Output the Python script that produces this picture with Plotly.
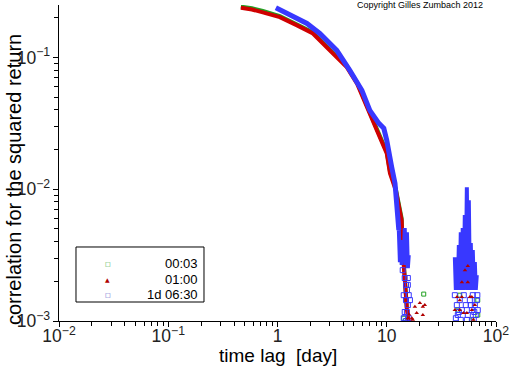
import math
import plotly.graph_objects as go

# ---------------- data ----------------
# series "01:00" (red triangles) - main decaying curve
red_x = [0.462, 0.583, 0.734, 1.05, 1.51, 2.11, 3.01, 4.32, 5.33, 6.31, 8.11, 10.0,
         10.7, 12.1, 12.9, 13.7, 14.0, 14.6, 15.3, 15.9]
red_y = [0.238, 0.231, 0.220, 0.202, 0.175, 0.152, 0.113, 0.084, 0.0636, 0.0449, 0.0280,
         0.0187, 0.0132, 0.0098, 0.0076, 0.0058, 0.00345, 0.00205, 0.00121, 0.00100]
# red scattered points beyond the main curve
red_tail_x = [15.6, 16.0, 17.0, 17.3, 18.1, 18.8, 20.1, 21.4, 22.3, 21.4,
              42.0, 44.0, 46.6, 46.6, 48.7, 48.7, 50.5, 52.0, 54.1, 55.2, 55.2,
              57.6, 60.1, 60.1, 62.0, 64.0]
red_tail_y = [0.00105, 0.00112, 0.00105, 0.00102, 0.00128, 0.00115, 0.00137, 0.00128, 0.00132, 0.00111,
              0.00121, 0.00152, 0.00144, 0.00121, 0.00152, 0.00197, 0.00115, 0.00243, 0.00115, 0.00197, 0.00262,
              0.00152, 0.00152, 0.00121, 0.00102, 0.00132]

# series "00:03" (green squares) - mostly hidden under the others
green_x = [0.462, 0.583, 0.734, 1.05, 1.51, 2.11, 3.01, 4.32, 5.33, 6.31, 8.11, 10.0,
           10.7, 12.1, 12.9, 13.7, 14.0, 14.6, 15.3]
green_y = [0.243, 0.236, 0.225, 0.206, 0.178, 0.155, 0.115, 0.086, 0.0650, 0.0460, 0.0287,
           0.0192, 0.0136, 0.0101, 0.0078, 0.0060, 0.00355, 0.00212, 0.00125]
green_tail_x = [14.3, 15.0, 21.8, 44.7, 46.6, 44.7, 48.7, 60.1, 64.0, 68.1, 68.1]
green_tail_y = [0.00105, 0.00144, 0.00160, 0.00205, 0.00157, 0.00121, 0.00260, 0.00102, 0.00188, 0.00144, 0.00111]

# series "1d 06:30" (blue squares) - main decaying curve
blue_x = [0.966, 1.30, 1.86, 2.44, 3.49, 4.59, 5.92, 7.00, 8.47, 9.40, 10.0, 11.1,
          11.9, 12.4, 12.9]
blue_y = [0.238, 0.208, 0.181, 0.152, 0.113, 0.0797, 0.0562, 0.0397, 0.0316, 0.0290,
          0.0235, 0.0147, 0.0111, 0.00731, 0.00489]
# blue noisy band around 13-16 days
blue_n1_x = [12.9, 13.2, 13.5, 13.7, 14.0, 14.3, 14.6, 15.0, 15.3, 15.6, 15.9]
blue_n1_y = [0.00489, 0.00280, 0.00411, 0.00266, 0.00377, 0.00280, 0.00507, 0.00266,
             0.00472, 0.00252, 0.00316]
# blue noisy band around 42-67 days
blue_n2_x = [42.0, 42.9, 43.8, 44.7, 45.7, 46.6, 47.6, 48.7, 49.6, 50.7, 51.8, 52.9,
             54.1, 55.2, 56.4, 57.6, 58.8, 60.1, 61.3, 62.6, 64.0, 65.3, 66.7]
blue_n2_y = [0.00305, 0.00172, 0.00266, 0.00172, 0.00377, 0.00172, 0.00472, 0.00188,
             0.00507, 0.00172, 0.00636, 0.00188, 0.01035, 0.00172, 0.00826, 0.00188,
             0.00390, 0.00172, 0.00345, 0.00188, 0.00280, 0.00172, 0.00223]
# blue isolated squares near the bottom
blue_pts_x = [14.0, 14.6, 15.0, 15.3, 15.6, 15.9, 14.3, 15.0, 15.6, 14.6, 15.3, 15.9, 14.3,
              15.0, 15.6, 16.3,
              42.0, 43.8, 44.7, 46.6, 47.6, 48.7, 50.7, 52.9, 55.2, 57.6, 60.1, 61.3,
              62.6, 64.0, 65.3, 66.7, 68.1, 42.9, 45.7, 54.1, 58.8, 63.3, 67.5]
blue_pts_y = [0.00243, 0.00212, 0.00188, 0.00172, 0.00212, 0.00157, 0.00157, 0.00144, 0.00132,
              0.00117, 0.00117, 0.00105, 0.00105, 0.00100, 0.00188, 0.00144,
              0.00157, 0.00132, 0.00111, 0.00144, 0.00102, 0.00121, 0.00157, 0.00132,
              0.00111, 0.00144, 0.00121, 0.00157, 0.00102, 0.00132, 0.00111, 0.00144,
              0.00121, 0.00105, 0.00117, 0.00102, 0.00132, 0.00117, 0.00157]

series_names = ["00:03", "01:00", "1d 06:30"]

# ---------------- styling ----------------
GREEN = "#22a022"
RED = "#d00000"
DRED = "#b00000"
BLUE = "#3838ff"
FONT = "Liberation Sans, Arial, sans-serif"

fig = go.Figure()

# green (bottom layer)
fig.add_trace(go.Scatter(x=green_x, y=green_y, mode="lines",
                         line=dict(color=GREEN, width=4), showlegend=False))
fig.add_trace(go.Scatter(x=green_tail_x, y=green_tail_y, mode="markers",
                         marker=dict(symbol="square-open", size=4, color=GREEN,
                                     line=dict(width=1, color=GREEN)),
                         showlegend=False))
# red
fig.add_trace(go.Scatter(x=red_x, y=red_y, mode="lines",
                         line=dict(color=RED, width=4), showlegend=False))
# blue
fig.add_trace(go.Scatter(x=blue_x, y=blue_y, mode="lines",
                         line=dict(color=BLUE, width=5), showlegend=False))
fig.add_trace(go.Scatter(x=blue_n1_x, y=blue_n1_y, mode="lines",
                         line=dict(color=BLUE, width=4), showlegend=False))
fig.add_trace(go.Scatter(x=blue_n2_x, y=blue_n2_y, mode="lines",
                         line=dict(color=BLUE, width=4), showlegend=False))
fig.add_trace(go.Scatter(x=blue_pts_x, y=blue_pts_y, mode="markers",
                         marker=dict(symbol="square-open", size=5, color=BLUE,
                                     line=dict(width=1, color=BLUE)),
                         showlegend=False))
# red scattered triangles on top
fig.add_trace(go.Scatter(x=red_tail_x, y=red_tail_y, mode="markers",
                         marker=dict(symbol="triangle-up", size=4, color=DRED),
                         showlegend=False))

axis_common = dict(
    type="log", dtick=1, exponentformat="power", showgrid=False, zeroline=False,
    showline=True, linecolor="black", linewidth=1, mirror=False, automargin=False,
    ticks="outside", ticklen=5, tickcolor="black", tickwidth=1,
    tickfont=dict(family=FONT, size=14, color="#222"),
    minor=dict(ticks="outside", ticklen=4, tickcolor="black", dtick="D1", showgrid=False),
)

fig.update_layout(
    width=512, height=366,
    margin=dict(l=59, r=16, t=5, b=45),
    paper_bgcolor="white", plot_bgcolor="white",
    font=dict(family=FONT, color="black"),
    xaxis=dict(range=[-2, 2], ticklabelstandoff=-5, **axis_common),
    yaxis=dict(range=[-3, math.log10(0.25)], **axis_common),
    showlegend=False,
)

# axis titles
fig.add_annotation(text="time lag\u00a0\u00a0[day]", xref="paper", yref="paper",
                   x=0.5, y=-0.108, showarrow=False,
                   font=dict(family=FONT, size=19, color="black"),
                   xanchor="center", yanchor="middle")
fig.add_annotation(text="correlation for the squared return", xref="paper", yref="paper",
                   x=-0.103, y=0.449, showarrow=False, textangle=-90,
                   font=dict(family=FONT, size=20, color="black"),
                   xanchor="center", yanchor="middle")
# copyright
fig.add_annotation(text="Copyright Gilles Zumbach 2012", xref="paper", yref="paper",
                   x=0.826, y=1.0, showarrow=False,
                   font=dict(family=FONT, size=9, color="black"),
                   xanchor="center", yanchor="middle")

# custom legend
fig.add_shape(type="rect", xref="paper", yref="paper",
              x0=0.0389, x1=0.3318, y0=0.0601, y1=0.2342,
              line=dict(color="black", width=1), fillcolor="white")
leg_y = [0.1835, 0.1329, 0.0854]
leg_sym = ["\u25a1", "\u25b2", "\u25a1"]
leg_col = [GREEN, DRED, "#4040c0"]
for name, yy, sym, col in zip(series_names, leg_y, leg_sym, leg_col):
    fig.add_annotation(text=sym, xref="paper", yref="paper", x=0.112, y=yy,
                       showarrow=False, xanchor="center", yanchor="middle",
                       font=dict(family="DejaVu Sans", size=6, color=col))
    fig.add_annotation(text=name, xref="paper", yref="paper", x=0.3227, y=yy,
                       showarrow=False, xanchor="right", yanchor="middle",
                       font=dict(family=FONT, size=13, color="black"))

fig.write_html("out.html", config={"displayModeBar": False},
               post_script="document.body.style.margin='0';document.body.style.padding='0';")
